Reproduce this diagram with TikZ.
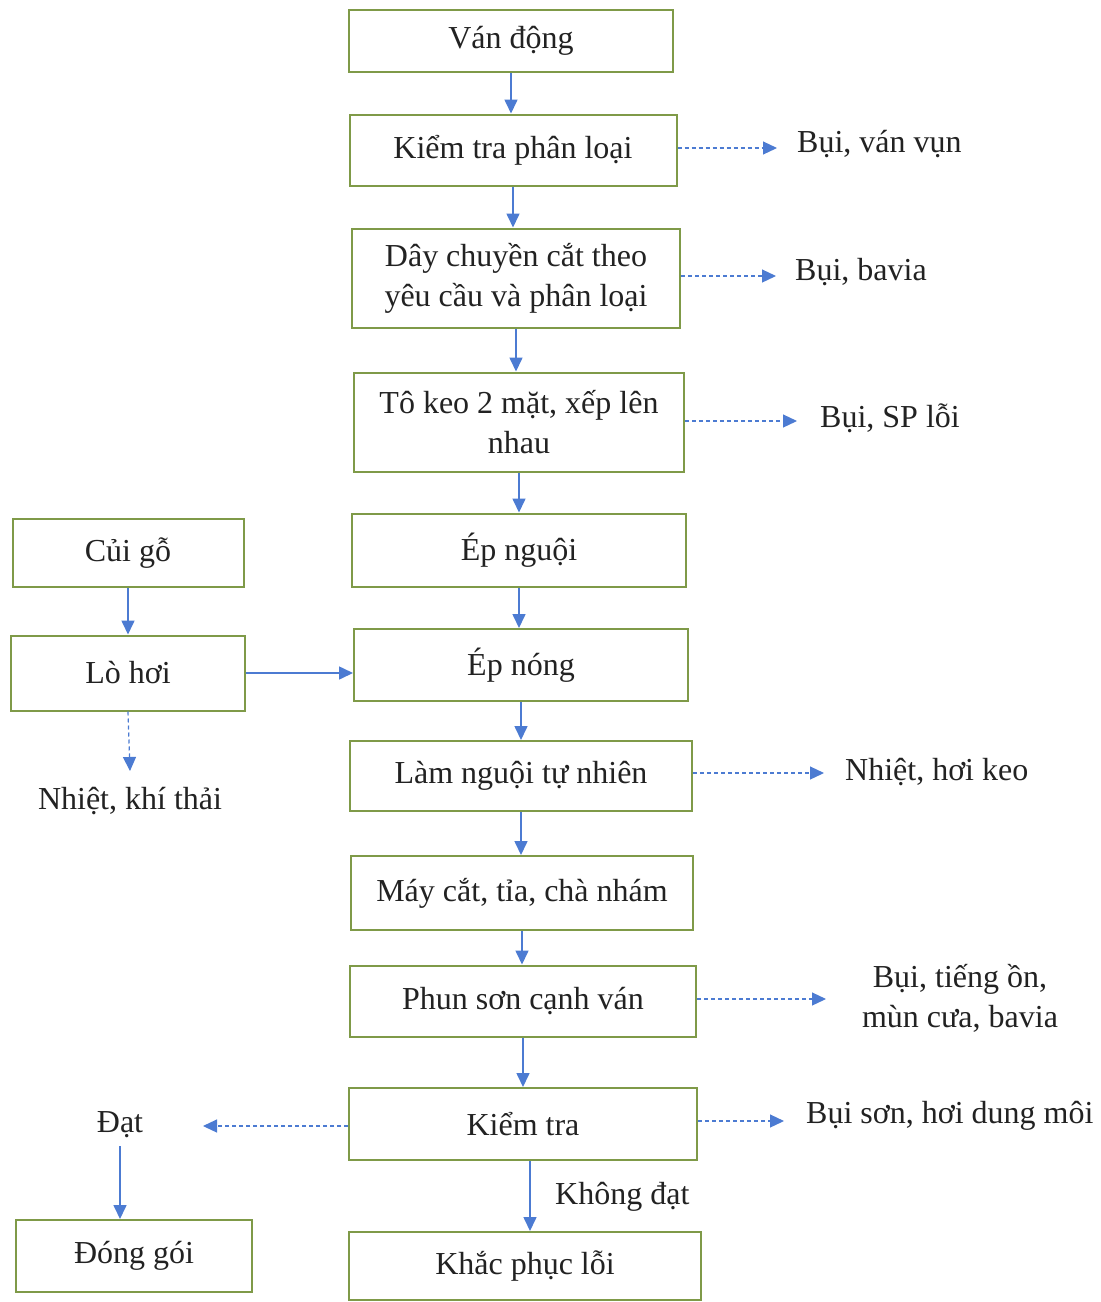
\documentclass[tikz,border=0pt]{standalone}
\usepackage{fontspec}
\setmainfont{Liberation Serif}
\usetikzlibrary{arrows.meta}
\definecolor{boxgreen}{HTML}{7F9A48}
\definecolor{arrblue}{HTML}{4C7BD2}
\definecolor{txt}{HTML}{222222}
\begin{document}
\begin{tikzpicture}[x=1pt,y=-1pt,
  box/.style={draw=boxgreen, line width=2pt, inner sep=0pt, align=center, text=txt,
    font=\fontsize{32}{40}\selectfont},
  lbl/.style={inner sep=0pt, align=center, text=txt, font=\fontsize{32}{40}\selectfont},
  solidarrow/.style={draw=arrblue, line width=1.6pt, -{Triangle[length=14pt,width=13pt]}},
  dasharrow/.style={draw=arrblue, line width=1.2pt, dash pattern=on 4pt off 3pt, -{Triangle[length=14pt,width=13pt]}}
]
\useasboundingbox[fill=white] (0,0) rectangle (1101,1302);

% main chain
\node[box, minimum width=324pt, minimum height=62pt] (b1) at (511,41) {Ván động};
\node[box, minimum width=327pt, minimum height=71pt] (b2) at (513,150) {Kiểm tra phân loại};
\node[box, minimum width=328pt, minimum height=99pt] (b3) at (516,278) {Dây chuyền cắt theo\\yêu cầu và phân loại};
\node[box, minimum width=330pt, minimum height=99pt] (b4) at (519,422) {Tô keo 2 mặt, xếp lên\\nhau};
\node[box, minimum width=334pt, minimum height=73pt] (b5) at (519,550) {Ép nguội};
\node[box, minimum width=334pt, minimum height=72pt] (b6) at (521,665) {Ép nóng};
\node[box, minimum width=342pt, minimum height=70pt] (b7) at (521,776) {Làm nguội tự nhiên};
\node[box, minimum width=342pt, minimum height=74pt] (b8) at (522,893) {Máy cắt, tỉa, chà nhám};
\node[box, minimum width=346pt, minimum height=71pt] (b9) at (523,1001) {Phun sơn cạnh ván};
\node[box, minimum width=348pt, minimum height=72pt] (b10) at (523,1124) {Kiểm tra};
\node[box, minimum width=352pt, minimum height=68pt] (b11) at (525,1266) {Khắc phục lỗi};

% left side
\node[box, minimum width=231pt, minimum height=68pt] (cg) at (128,553) {Củi gỗ};
\node[box, minimum width=234pt, minimum height=75pt] (lh) at (128,673) {Lò hơi};
\node[box, minimum width=236pt, minimum height=72pt] (dg) at (134,1256) {Đóng gói};
\node[lbl] (nkt) at (130,801) {Nhiệt, khí thải};
\node[lbl] (dat) at (120,1125) {Đạt};

% right labels
\node[lbl, anchor=west] (l2) at (797,144) {Bụi, ván vụn};
\node[lbl, anchor=west] (l3) at (795,272) {Bụi, bavia};
\node[lbl, anchor=west] (l4) at (820,418) {Bụi, SP lỗi};
\node[lbl, anchor=west] (l7) at (845,772) {Nhiệt, hơi keo};
\node[lbl] (l9) at (960,998) {Bụi, tiếng ồn,\\mùn cưa, bavia};
\node[lbl, anchor=west] (l10) at (806,1116) {Bụi sơn, hơi dung môi};
\node[lbl, anchor=west] (kd) at (555,1197) {Không đạt};

% dashed ends
\coordinate (e2) at (777,148);
\coordinate (e3) at (776,276);
\coordinate (e4) at (797,421);
\coordinate (e7) at (824,773);
\coordinate (e9) at (826,999);
\coordinate (e10) at (784,1121);
\coordinate (edat) at (203,1126);
\coordinate (enkt) at (130,771);

% main arrows
\draw[solidarrow] (b1.south) -- (b1.south |- b2.north);
\draw[solidarrow] (b2.south) -- (b2.south |- b3.north);
\draw[solidarrow] (b3.south) -- (b3.south |- b4.north);
\draw[solidarrow] (b4.south) -- (b4.south |- b5.north);
\draw[solidarrow] (b5.south) -- (b5.south |- b6.north);
\draw[solidarrow] (b6.south) -- (b6.south |- b7.north);
\draw[solidarrow] (b7.south) -- (b7.south |- b8.north);
\draw[solidarrow] (b8.south) -- (b8.south |- b9.north);
\draw[solidarrow] (b9.south) -- (b9.south |- b10.north);
\draw[solidarrow] ([xshift=7pt]b10.south) -- ([xshift=7pt]b10.south |- b11.north);

\draw[solidarrow] (cg.south) -- (cg.south |- lh.north);
\draw[solidarrow] (lh.east) -- (lh.east -| b6.west);
\draw[dasharrow] (lh.south) -- (enkt);
\draw[solidarrow] (dat.south) ++(0,8) -- (dat.south |- dg.north);

% dashed side arrows
\draw[dasharrow] (b2.east |- e2) -- (e2);
\draw[dasharrow] (b3.east |- e3) -- (e3);
\draw[dasharrow] (b4.east |- e4) -- (e4);
\draw[dasharrow] (b7.east |- e7) -- (e7);
\draw[dasharrow] (b9.east |- e9) -- (e9);
\draw[dasharrow] (b10.east |- e10) -- (e10);
\draw[dasharrow] (b10.west |- edat) -- (edat);
\end{tikzpicture}
\end{document}
